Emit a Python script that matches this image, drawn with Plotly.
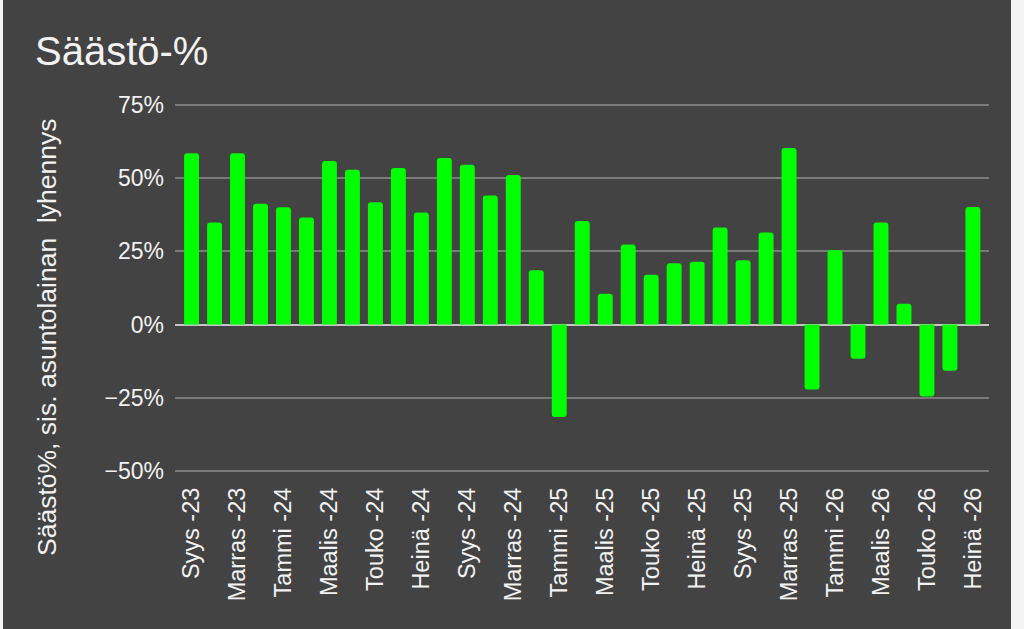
import plotly.graph_objects as go

months = [
    "Syys -23", "Loka -23", "Marras -23", "Joulu -23",
    "Tammi -24", "Helmi -24", "Maalis -24", "Huhti -24", "Touko -24", "Kesä -24",
    "Heinä -24", "Elo -24", "Syys -24", "Loka -24", "Marras -24", "Joulu -24",
    "Tammi -25", "Helmi -25", "Maalis -25", "Huhti -25", "Touko -25", "Kesä -25",
    "Heinä -25", "Elo -25", "Syys -25", "Loka -25", "Marras -25", "Joulu -25",
    "Tammi -26", "Helmi -26", "Maalis -26", "Huhti -26", "Touko -26", "Kesä -26",
    "Heinä -26",
]
savings_pct = [
    58.6, 34.9, 58.6, 41.3,
    40.1, 36.6, 55.9, 52.9, 41.8, 53.5,
    38.3, 56.9, 54.6, 44.1, 51.1, 18.6,
    -31.6, 35.4, 10.5, 27.4, 17.0, 21.0,
    21.5, 33.2, 22.0, 31.5, 60.4, -22.2,
    25.5, -11.7, 34.9, 7.1, -24.6, -15.8,
    40.2,
]
tick_labels = months[::2]
y_ticks = [-50, -25, 0, 25, 50, 75]
y_tick_text = ["\u221250%", "\u221225%", "0%", "25%", "50%", "75%"]

BG = "#434343"
TXT = "#f2f2f2"
FONT = "Liberation Sans, Arial, sans-serif"

fig = go.Figure()
fig.add_trace(go.Bar(
    x=months, y=savings_pct,
    marker=dict(color="#00ff00", line=dict(width=0), cornerradius=3),
    width=0.65,
))

L, R, T, B = 175, 35, 104, 157
W, H = 1024, 629
pw = W - L - R
ph = H - T - B

def px_x(p):
    return (p - L) / pw

def px_y(p):
    return (H - B - p) / ph

fig.update_layout(
    width=W, height=H,
    margin=dict(l=L, r=R, t=T, b=B, pad=0),
    paper_bgcolor=BG, plot_bgcolor=BG,
    showlegend=False,
    font=dict(family=FONT, color=TXT),
    xaxis=dict(
        type="category",
        range=[-0.72, 34.7],
        tickmode="array", tickvals=tick_labels, ticktext=tick_labels,
        tickangle=-90, tickfont=dict(size=23.5, color=TXT, family=FONT),
        showgrid=False, zeroline=False, showline=False, ticks="",
        ticklabelstandoff=10,
    ),
    yaxis=dict(
        range=[-50.4, 75.4],
        tickmode="array", tickvals=y_ticks, ticktext=y_tick_text,
        tickfont=dict(size=23, color=TXT, family=FONT),
        showgrid=True, gridcolor="#7a7a7a", gridwidth=2,
        zeroline=True, zerolinecolor="#c4c4c4", zerolinewidth=2,
        showline=False, ticks="", ticklabelstandoff=10,
    ),
    annotations=[
        dict(text="Säästö-%", xref="paper", yref="paper",
             x=px_x(33), y=px_y(51), xanchor="left", yanchor="middle",
             showarrow=False, font=dict(size=40, color=TXT, family=FONT)),
        dict(text="Säästö%, sis. asuntolainan  lyhennys", xref="paper", yref="paper",
             x=px_x(47), y=px_y(337), xanchor="center", yanchor="middle",
             textangle=-90, showarrow=False,
             font=dict(size=26.5, color=TXT, family=FONT)),
    ],
    shapes=[
        dict(type="rect", xref="paper", yref="paper", layer="above",
             x0=px_x(1011), x1=px_x(1030), y0=px_y(-5), y1=px_y(640),
             fillcolor="#f4f4f4", line=dict(width=0)),
        dict(type="rect", xref="paper", yref="paper", layer="above",
             x0=px_x(-5), x1=px_x(3), y0=px_y(-5), y1=px_y(640),
             fillcolor="#f4f4f4", line=dict(width=0)),
    ],
)

fig.write_html(
    "out.html",
    config={"displayModeBar": False},
    post_script="document.body.style.margin='0';document.body.style.overflow='hidden';",
)
